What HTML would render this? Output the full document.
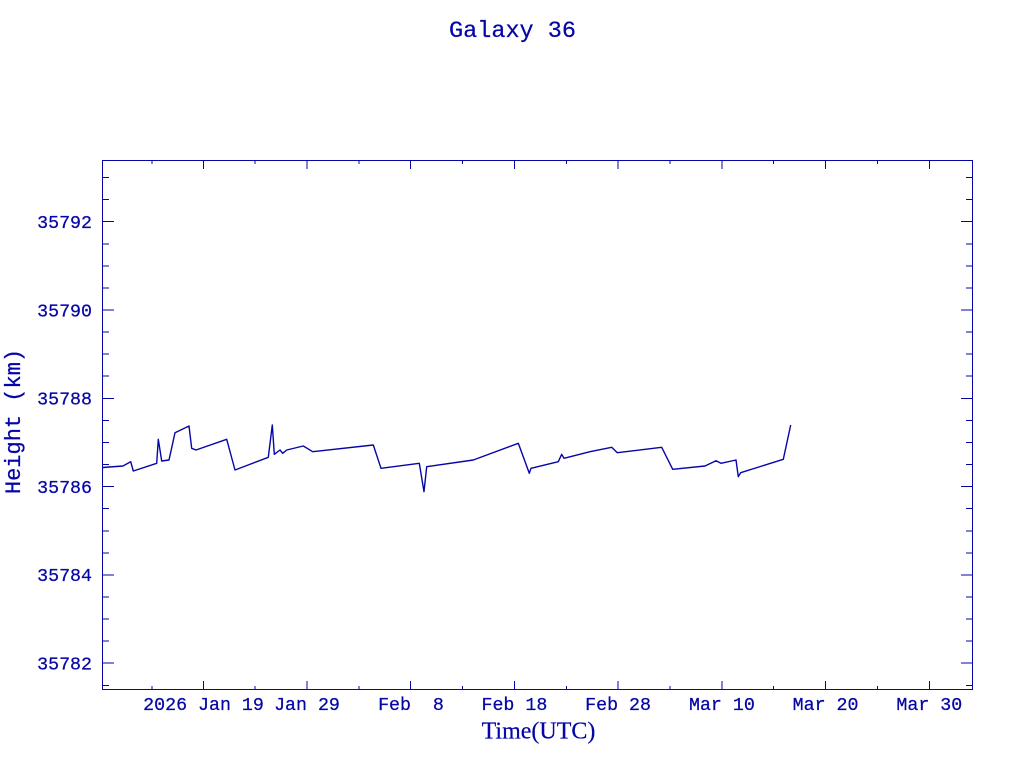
<!DOCTYPE html>
<html>
<head>
<meta charset="utf-8">
<style>
  html, body { margin: 0; padding: 0; background: #ffffff; }
  body { width: 1024px; height: 768px; overflow: hidden; }
  svg { display: block; }
  .mono { font-family: "Liberation Mono", monospace; fill: #0606a6; stroke: #0606a6; stroke-width: 0.25; }
  .serif { font-family: "Liberation Serif", serif; fill: #0606a6; stroke: #0606a6; stroke-width: 0.2; }
</style>
</head>
<body>
<svg width="1024" height="768" viewBox="0 0 1024 768" xmlns="http://www.w3.org/2000/svg">
  <rect x="0" y="0" width="1024" height="768" fill="#ffffff"/>

  <!-- Title -->
  <text class="mono" x="512.5" y="37" font-size="23.5" text-anchor="middle">Galaxy 36</text>

  <!-- Frame -->
  <g stroke="#0606a6" stroke-width="1" fill="none" shape-rendering="crispEdges">
    <rect x="102.5" y="160.5" width="870" height="529"/>

    <!-- Y major ticks (left & right) -->
    <path d="
      M102,221.7 H114 M973,221.7 H961
      M102,310 H114 M973,310 H961
      M102,398.3 H114 M973,398.3 H961
      M102,486.6 H114 M973,486.6 H961
      M102,574.9 H114 M973,574.9 H961
      M102,663.2 H114 M973,663.2 H961
    "/>
    <!-- Y minor ticks -->
    <path d="
      M102,177.6 H109 M973,177.6 H966
      M102,199.6 H109 M973,199.6 H966
      M102,243.8 H109 M973,243.8 H966
      M102,265.8 H109 M973,265.8 H966
      M102,287.9 H109 M973,287.9 H966
      M102,332.1 H109 M973,332.1 H966
      M102,354.2 H109 M973,354.2 H966
      M102,376.2 H109 M973,376.2 H966
      M102,420.4 H109 M973,420.4 H966
      M102,442.5 H109 M973,442.5 H966
      M102,464.5 H109 M973,464.5 H966
      M102,508.7 H109 M973,508.7 H966
      M102,530.8 H109 M973,530.8 H966
      M102,552.8 H109 M973,552.8 H966
      M102,597 H109 M973,597 H966
      M102,619.1 H109 M973,619.1 H966
      M102,641.1 H109 M973,641.1 H966
      M102,685.3 H109 M973,685.3 H966
    "/>

    <!-- X major ticks (bottom & top) -->
    <path d="
      M203.3,690 V681 M203.3,160 V169
      M307,690 V681 M307,160 V169
      M410.7,690 V681 M410.7,160 V169
      M514.4,690 V681 M514.4,160 V169
      M618.1,690 V681 M618.1,160 V169
      M721.9,690 V681 M721.9,160 V169
      M825.6,690 V681 M825.6,160 V169
      M929.3,690 V681 M929.3,160 V169
    "/>
    <!-- X minor ticks -->
    <path d="
      M152,690 V686 M152,160 V164
      M255.2,690 V686 M255.2,160 V164
      M358.9,690 V686 M358.9,160 V164
      M462.6,690 V686 M462.6,160 V164
      M566.3,690 V686 M566.3,160 V164
      M670,690 V686 M670,160 V164
      M773.7,690 V686 M773.7,160 V164
      M877.4,690 V686 M877.4,160 V164
    "/>
  </g>

  <!-- Y tick labels -->
  <g class="mono" font-size="18.3" text-anchor="end">
    <text x="92" y="228">35792</text>
    <text x="92" y="316.3">35790</text>
    <text x="92" y="404.6">35788</text>
    <text x="92" y="492.9">35786</text>
    <text x="92" y="581.2">35784</text>
    <text x="92" y="669.5">35782</text>
  </g>

  <!-- X tick labels -->
  <g class="mono" font-size="18.3" text-anchor="middle" style="white-space:pre">
    <text x="203.5" y="710">2026 Jan 19</text>
    <text x="307" y="710">Jan 29</text>
    <text x="411" y="710" xml:space="preserve">Feb  8</text>
    <text x="514.4" y="710">Feb 18</text>
    <text x="618.1" y="710">Feb 28</text>
    <text x="721.9" y="710">Mar 10</text>
    <text x="825.6" y="710">Mar 20</text>
    <text x="929.3" y="710">Mar 30</text>
  </g>

  <!-- Axis labels -->
  <text class="serif" x="538.5" y="738.5" font-size="24" text-anchor="middle">Time(UTC)</text>
  <text class="mono" x="0" y="0" font-size="22" text-anchor="middle" transform="translate(20,421.5) rotate(-90)">Height (km)</text>

  <!-- Data series -->
  <polyline fill="none" stroke="#0606a6" stroke-width="1.4" stroke-linejoin="round"
    points="
      102.5,467.5 123,466 130.7,461.7 133.3,471 156.7,463.3 158.3,439.3 161.7,461 169,460
      175,432.7 189,426 191.7,448.3 196,450 226.7,439.3 235,470 268.3,457.3 272.3,425
      274.3,454.3 280,450 282.7,453.3 286.7,450 303.3,446 312.7,451.7 373.3,445 381,468.3
      419.3,463.3 424,491.7 426.7,466.7 473.3,460 518.3,443.3 529.3,473.3 531,468.3
      558.3,461.7 561.7,454.3 564,458.3 590,451.7 611.7,447.3 617.3,452.7 661.7,447.3
      672.7,469.3 705,466 716,460.7 721,463.3 736,460 738.3,476.7 740.7,472.7 783.3,459.3
      790.7,425
    "/>
</svg>
</body>
</html>
